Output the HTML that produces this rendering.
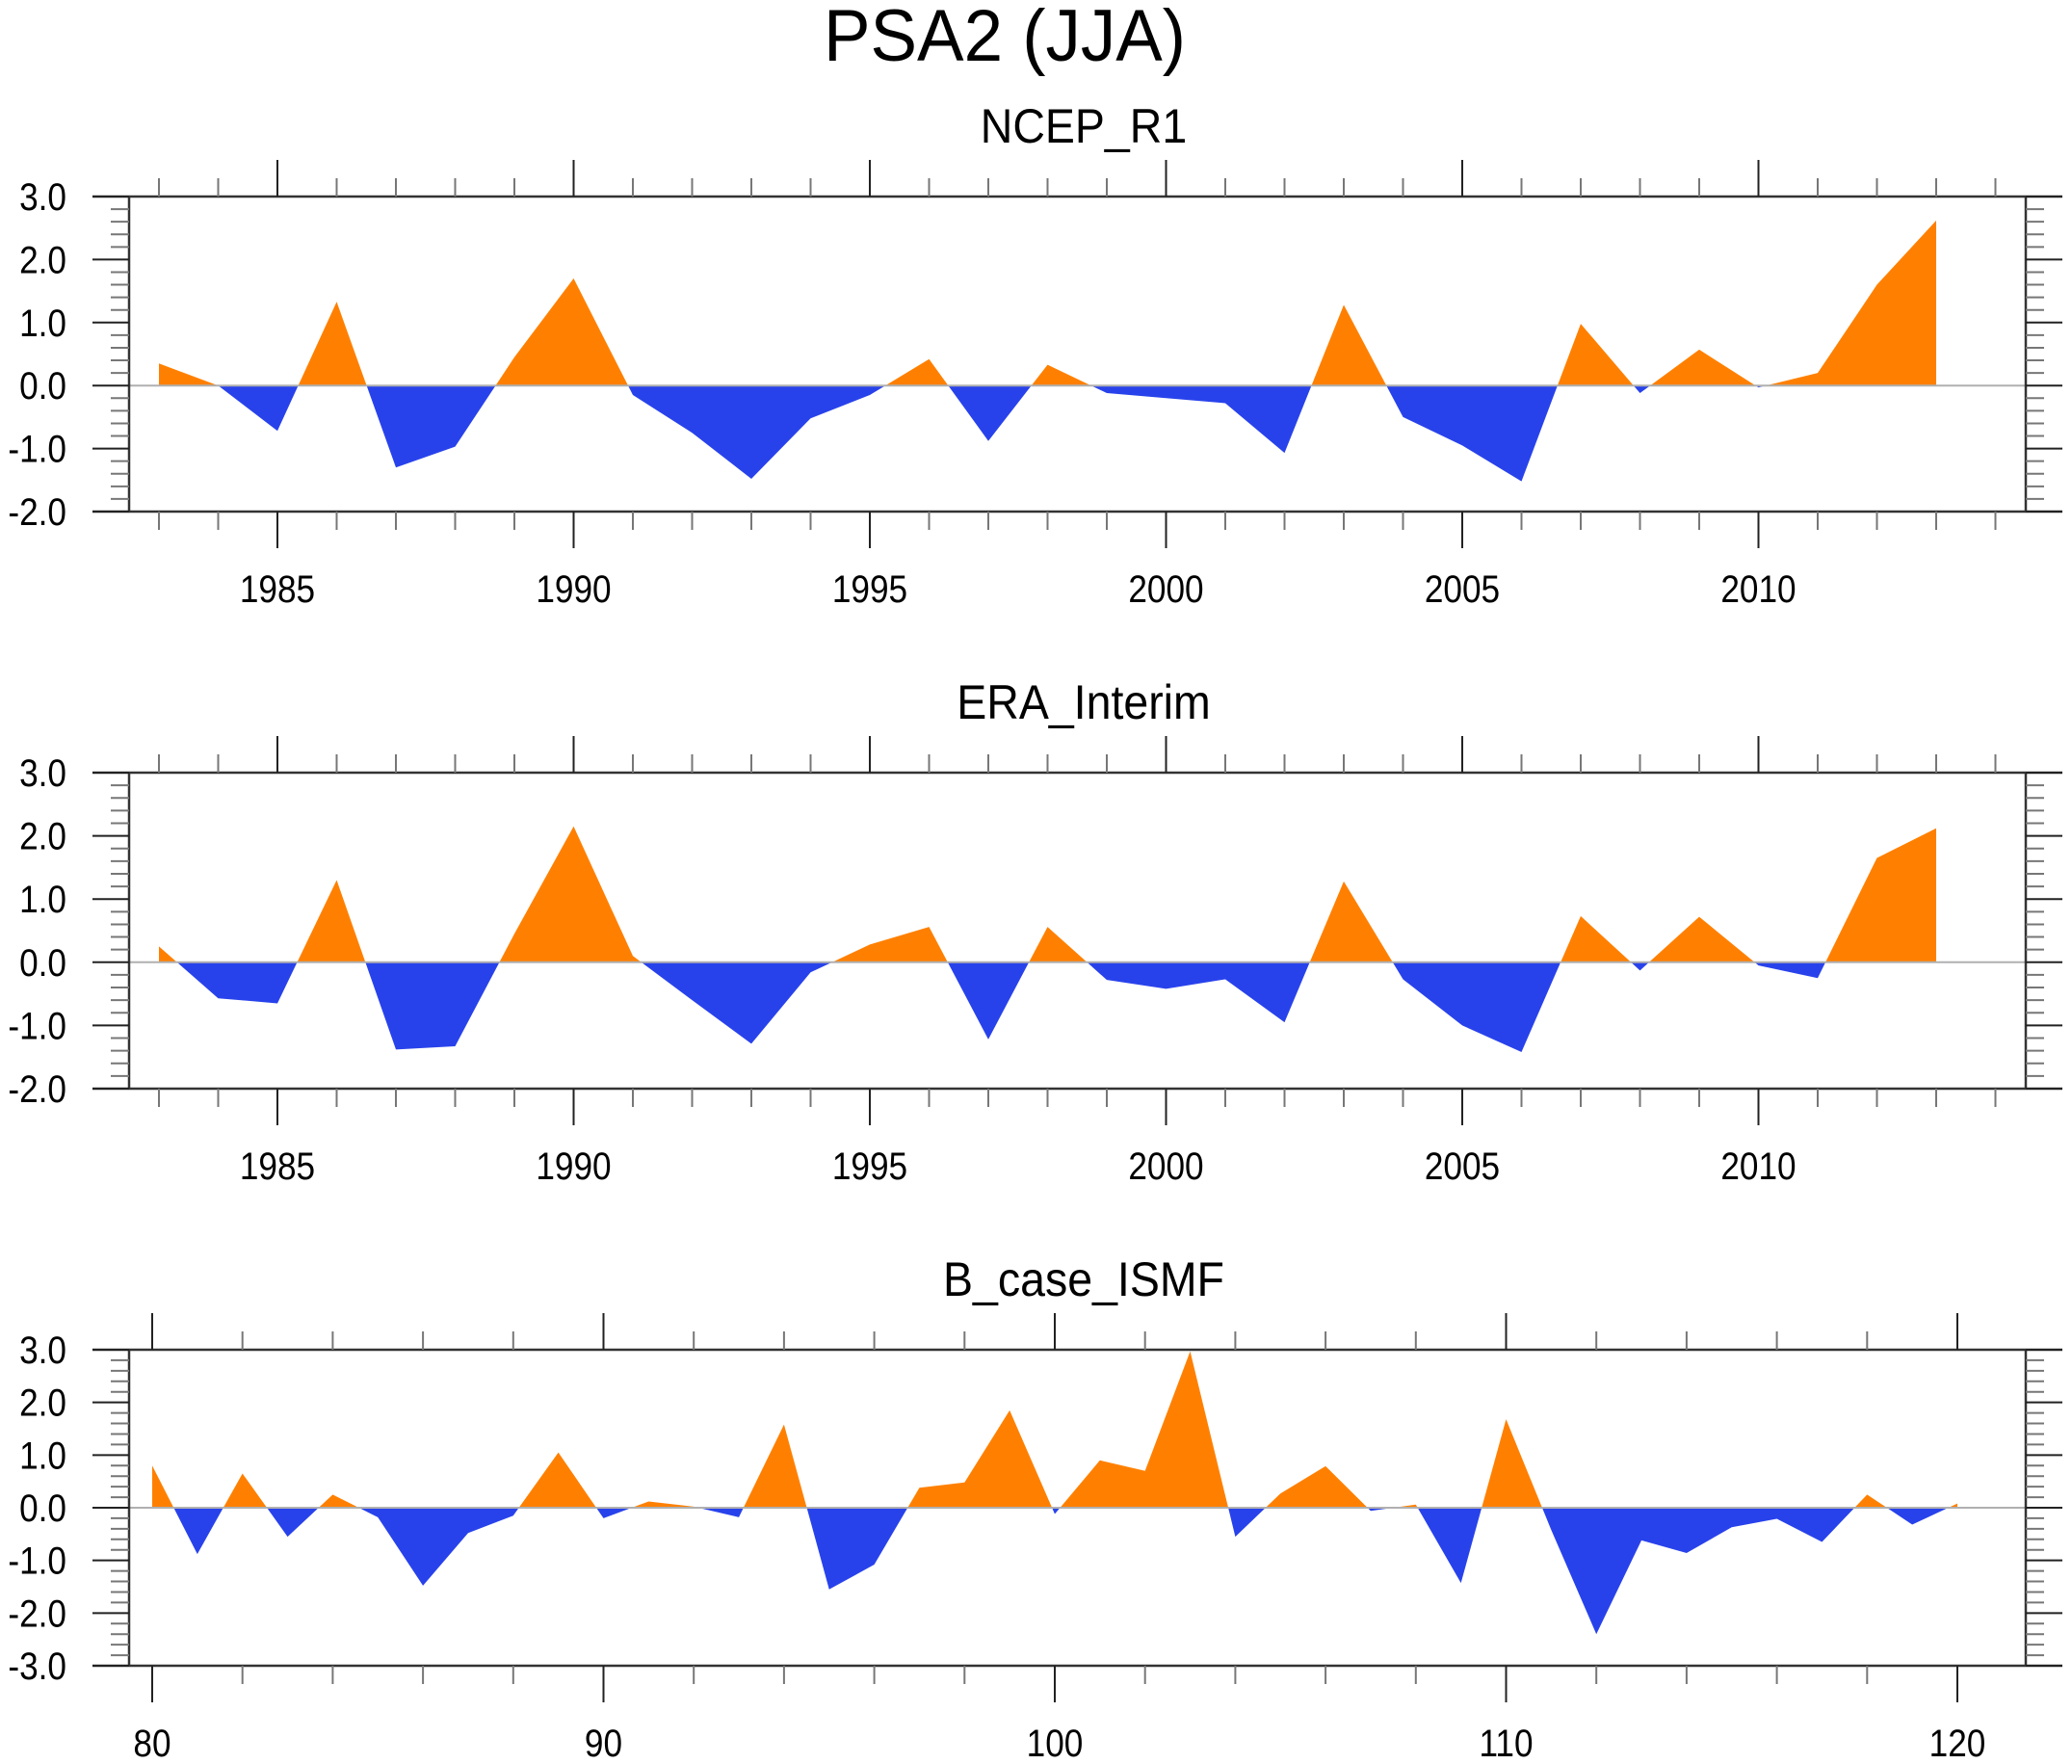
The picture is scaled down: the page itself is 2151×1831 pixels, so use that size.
<!DOCTYPE html>
<html><head><meta charset="utf-8"><style>
html,body{margin:0;padding:0;background:#fff;}
svg{display:block;font-family:"Liberation Sans",Arial,sans-serif;}
</style></head><body>
<svg id="chart" width="2151" height="1831" viewBox="0 0 2151 1831" xmlns="http://www.w3.org/2000/svg">
<text x="1043" y="63" font-size="76" text-anchor="middle" textLength="376" lengthAdjust="spacingAndGlyphs">PSA2 (JJA)</text>
</svg>
<script>
const ncepYears = [1983,1984,1985,1986,1987,1988,1989,1990,1991,1992,1993,1994,1995,1996,1997,1998,1999,2000,2001,2002,2003,2004,2005,2006,2007,2008,2009,2010,2011,2012,2013];
const ncepValues = [0.35,0.0,-0.72,1.33,-1.3,-0.97,0.45,1.7,-0.15,-0.75,-1.48,-0.52,-0.15,0.42,-0.88,0.33,-0.12,-0.2,-0.28,-1.07,1.28,-0.5,-0.95,-1.52,0.98,-0.12,0.57,-0.03,0.2,1.6,2.62];
const eraYears = ncepYears;
const eraValues = [0.25,-0.57,-0.65,1.3,-1.38,-1.33,0.45,2.15,0.1,-0.6,-1.29,-0.16,0.28,0.56,-1.22,0.56,-0.28,-0.42,-0.27,-0.95,1.28,-0.27,-1.0,-1.42,0.73,-0.13,0.72,-0.05,-0.25,1.65,2.12];
const bcaseYears = [80,81,82,83,84,85,86,87,88,89,90,91,92,93,94,95,96,97,98,99,100,101,102,103,104,105,106,107,108,109,110,111,112,113,114,115,116,117,118,119,120];
const bcaseValues = [0.8,-0.88,0.65,-0.55,0.25,-0.18,-1.48,-0.48,-0.15,1.05,-0.2,0.12,0.02,-0.18,1.58,-1.55,-1.08,0.38,0.48,1.85,-0.12,0.9,0.7,2.97,-0.55,0.27,0.79,-0.06,0.06,-1.43,1.68,-0.42,-2.4,-0.62,-0.86,-0.37,-0.21,-0.65,0.25,-0.32,0.08];
const yearTickLabels = ["1985","1990","1995","2000","2005","2010"];
const bcaseTickLabels = ["80","90","100","110","120"];
const yLabels12 = ["3.0","2.0","1.0","0.0","-1.0","-2.0"];
const yLabels3 = ["3.0","2.0","1.0","0.0","-1.0","-2.0","-3.0"];

const NS="http://www.w3.org/2000/svg";
const svg=document.getElementById('chart');
function mk(tag,attrs,parent){const e=document.createElementNS(NS,tag);for(const k in attrs)e.setAttribute(k,attrs[k]);(parent||svg).appendChild(e);return e;}

function panel(cfg){
  const g=mk('g',{});
  
  
  const L=134,R=2103,T=cfg.top,B=cfg.bottom;
  const xs=v=>cfg.x0px+(v-cfg.x0)*cfg.xStep;
  const ys=v=>T+(cfg.ymax-v)/(cfg.ymax-cfg.ymin)*(B-T);
  const st=mk('text',{x:1125,y:T-56,'font-size':50,'text-anchor':'middle',transform:'translate(1125 0) scale(0.93 1) translate(-1125 0)'},g);
  st.textContent=cfg.title;
  
  
  const cid=cfg.name;
  const defs=mk('defs',{},g);
  const cp=mk('clipPath',{id:cid+'-pos'},defs); mk('rect',{x:L,y:T,width:R-L,height:ys(0)-T},cp);
  const cn=mk('clipPath',{id:cid+'-neg'},defs); mk('rect',{x:L,y:ys(0),width:R-L,height:B-ys(0)},cn);
  let pts=xs(cfg.xv[0])+','+ys(0)+' ';
  cfg.xv.forEach((x,i)=>{pts+=xs(x)+','+ys(cfg.yv[i])+' ';});
  pts+=xs(cfg.xv[cfg.xv.length-1])+','+ys(0);
  const pos=mk('polygon',{points:pts,fill:'#ff8000','clip-path':'url(#'+cid+'-pos)'},g);
  
  
  const neg=mk('polygon',{points:pts,fill:'#2842eb','clip-path':'url(#'+cid+'-neg)'},g);
  
  
  const zl=mk('line',{x1:L,x2:R,y1:ys(0),y2:ys(0),stroke:'#b0b0b0','stroke-width':2},g);
  
  
  const st2={stroke:'#333','stroke-width':2.5};
  mk('line',Object.assign({x1:96,x2:2141,y1:T,y2:T},st2),g);
  mk('line',Object.assign({x1:96,x2:2141,y1:B,y2:B},st2),g);
  mk('line',Object.assign({x1:L,x2:L,y1:T,y2:B},st2),g);
  mk('line',Object.assign({x1:R,x2:R,y1:T,y2:B},st2),g);
  const nMinor=(cfg.ymax-cfg.ymin)*5;
  for(let i=0;i<=nMinor;i++){
    const v=cfg.ymax-i*0.2, y=ys(v), major=i%5===0, len=major?38:19;
    mk('line',{x1:L-len,x2:L,y1:y,y2:y,stroke:major?'#222':'#777','stroke-width':2},g);
    mk('line',{x1:R,x2:R+len,y1:y,y2:y,stroke:major?'#222':'#777','stroke-width':2},g);
  }
  cfg.yLabels.forEach((lab,i)=>{
    const y=ys(cfg.ymax-i)+14;
    const t=mk('text',{x:69,y:y,'font-size':40,'text-anchor':'end',transform:'translate(69 0) scale(0.88 1) translate(-69 0)'},g);
    t.textContent=lab;
    
    
  });
  for(let v=cfg.xtStart;v<=cfg.xtEnd;v+=cfg.minorStep){
    const x=xs(v), major=((v-cfg.majorStart)%cfg.majorStep)===0, len=major?38:19;
    mk('line',{x1:x,x2:x,y1:T-len,y2:T,stroke:major?'#222':'#777','stroke-width':2},g);
    mk('line',{x1:x,x2:x,y1:B,y2:B+len,stroke:major?'#222':'#777','stroke-width':2},g);
  }
  cfg.xLabels.forEach(lab=>{
    const x=xs(+lab);
    const t=mk('text',{x:x,y:B+94,'font-size':40,'text-anchor':'middle',transform:'translate('+x+' 0) scale(0.88 1) translate('+(-x)+' 0)'},g);
    t.textContent=lab;
    
    
  });
}
panel({name:'ncep-r1',title:'NCEP_R1',top:204,bottom:531,ymax:3,ymin:-2,x0:1985,x0px:288,xStep:61.5,xv:ncepYears,yv:ncepValues,yLabels:yLabels12,xLabels:yearTickLabels,xtStart:1983,xtEnd:2014,minorStep:1,majorStart:1985,majorStep:5});
panel({name:'era-interim',title:'ERA_Interim',top:802,bottom:1130,ymax:3,ymin:-2,x0:1985,x0px:288,xStep:61.5,xv:eraYears,yv:eraValues,yLabels:yLabels12,xLabels:yearTickLabels,xtStart:1983,xtEnd:2014,minorStep:1,majorStart:1985,majorStep:5});
panel({name:'b-case-ismf',title:'B_case_ISMF',top:1401,bottom:1729,ymax:3,ymin:-3,x0:80,x0px:158,xStep:46.85,xv:bcaseYears,yv:bcaseValues,yLabels:yLabels3,xLabels:bcaseTickLabels,xtStart:80,xtEnd:120,minorStep:2,majorStart:80,majorStep:10});
</script>
</body></html>
